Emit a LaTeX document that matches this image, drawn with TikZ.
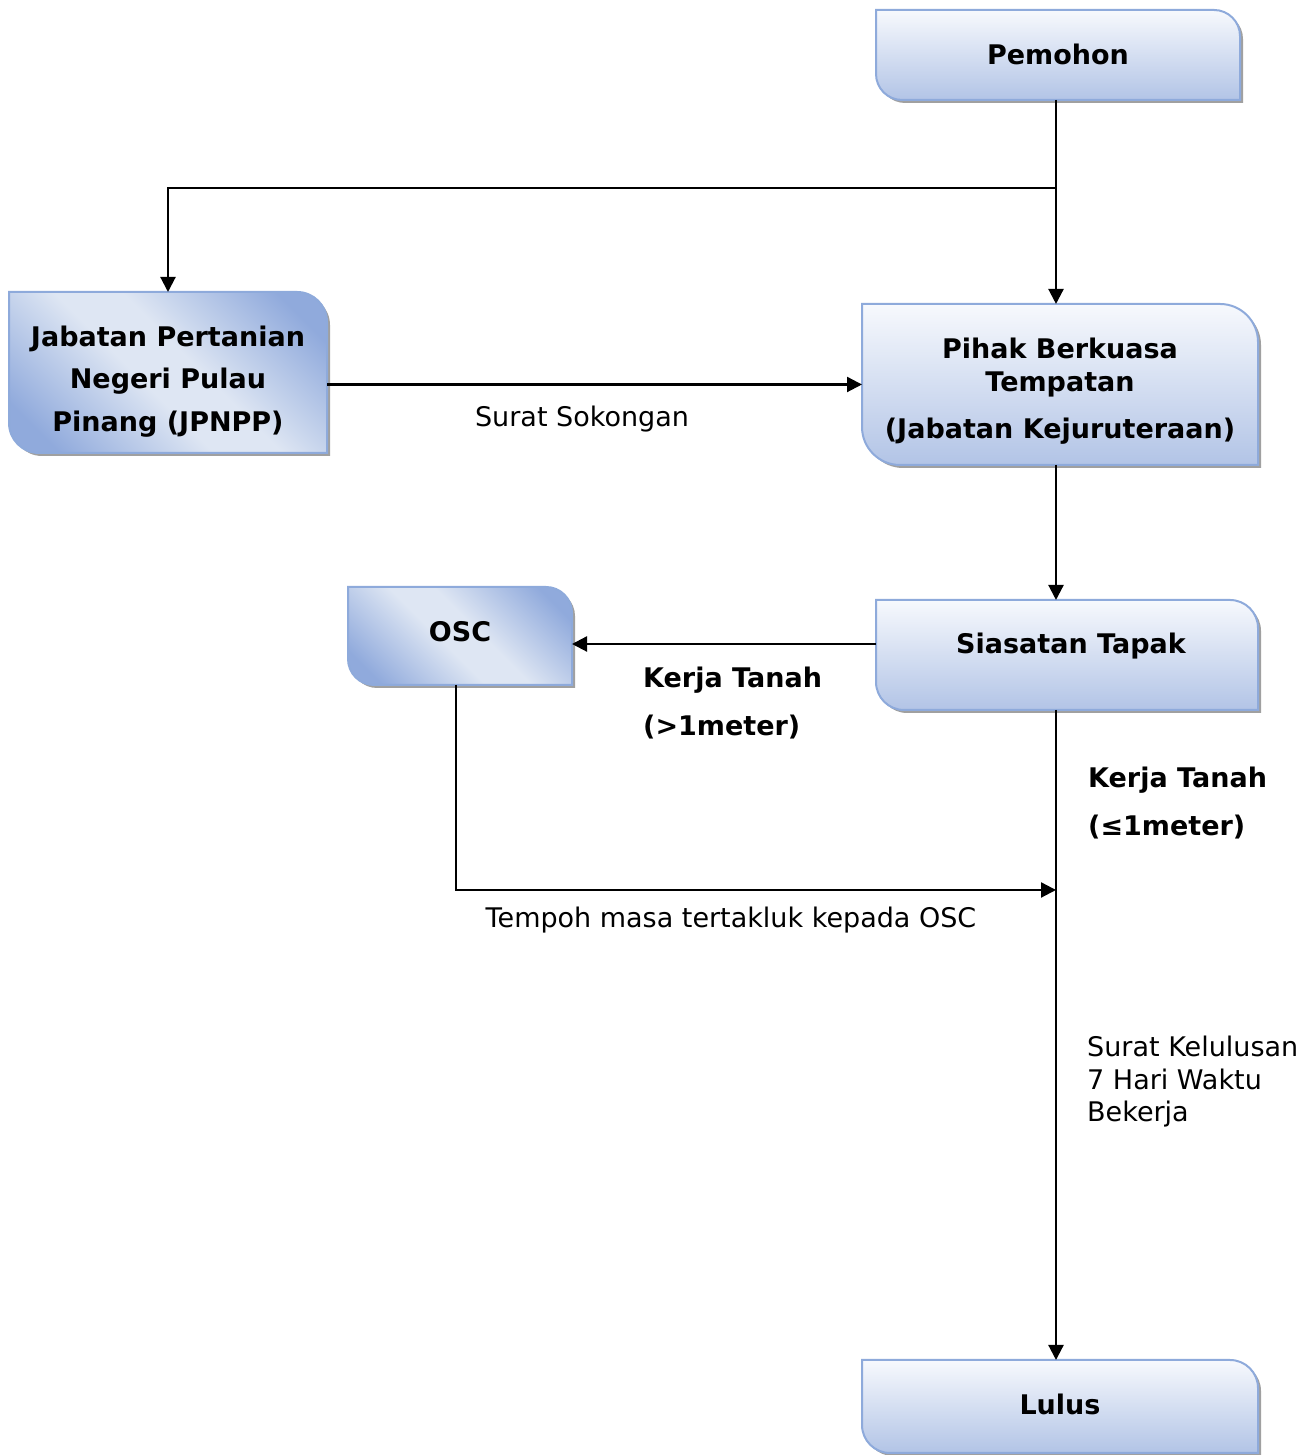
\documentclass[tikz,border=0pt]{standalone}
\usepackage{fontspec}
\setmainfont{DejaVu Sans}
\usetikzlibrary{arrows.meta,calc}
\definecolor{bordc}{RGB}{142,170,219}
\definecolor{topc}{RGB}{247,249,253}
\definecolor{botc}{RGB}{178,196,230}
\definecolor{darkc}{RGB}{144,170,220}
\definecolor{lightc}{RGB}{222,230,243}
\definecolor{shadc}{RGB}{160,160,160}
\pgfdeclarehorizontalshading{diagsh}{100bp}{color(0bp)=(darkc); color(22bp)=(darkc); color(45bp)=(lightc); color(55bp)=(lightc); color(78bp)=(darkc); color(100bp)=(darkc)}
\tikzset{
  box/.style={draw=none, rectangle, inner sep=0pt, outer sep=0pt},
  conn/.style={line width=2.2pt, -{Triangle[length=15pt,width=15pt]}},
  btxt/.style={font=\fontsize{27}{33}\selectfont\bfseries, align=center, inner sep=0pt},
  ntxt/.style={font=\fontsize{27}{32.5}\selectfont, align=left, inner sep=0pt},
  bx/.style n args={4}{insert path={
    ([shift={(#3,#4)}]#1.north west) -- ([shift={(#3-#2,#4)}]#1.north east)
    arc[start angle=90,end angle=0,radius=#2pt] -- ([shift={(#3,#4)}]#1.south east)
    -- ([shift={(#3+#2,#4)}]#1.south west) arc[start angle=270,end angle=180,radius=#2pt] -- cycle}},
  vshade/.style={top color=topc, bottom color=botc},
  dshade/.style={shading=diagsh, shading angle=45},
}
\newcommand\mybox[3]{%
  \fill[shadc, bx={#1}{#2}{3}{-3}];
  \shade[#3, bx={#1}{#2}{0}{0}];
  \draw[bordc, line width=2pt, bx={#1}{#2}{0}{0}];
}
\begin{document}
\begin{tikzpicture}[x=1pt,y=1pt]
\useasboundingbox (0,0) rectangle (1312,1455);
% box geometry
\node[box, minimum width=364pt, minimum height=90pt] (pem) at (1058,1400) {};
\node[box, minimum width=318pt, minimum height=161pt] (jp) at (168,1082.5) {};
\node[box, minimum width=396pt, minimum height=161pt] (pih) at (1060,1070.5) {};
\node[box, minimum width=224pt, minimum height=98pt] (osc) at (460,819) {};
\node[box, minimum width=382pt, minimum height=110pt] (sia) at (1067,800) {};
\node[box, minimum width=396pt, minimum height=93pt] (lul) at (1060,48.5) {};
\mybox{pem}{26}{vshade}
\mybox{jp}{30}{dshade}
\mybox{pih}{38}{vshade}
\mybox{osc}{26}{dshade}
\mybox{sia}{28}{vshade}
\mybox{lul}{28}{vshade}
% box texts
\node[btxt] (tpem) at (1058,1401) {Pemohon};
\node[btxt, font=\fontsize{27}{42.5}\selectfont\bfseries] (tjp) at (168,1073.5) {Jabatan Pertanian\\Negeri Pulau\\Pinang (JPNPP)};
\node[btxt] (tpih) at (1060,1064) {Pihak Berkuasa\\Tempatan\\[14pt](Jabatan Kejuruteraan)};
\node[btxt] (tosc) at (460,823) {OSC};
\node[btxt] (tsia) at (1071,809) {Siasatan Tapak};
\node[btxt] (tlul) at (1060,51) {Lulus};
% connectors
\coordinate (vx) at (1056,0);
\coordinate (br) at (1056,1267);
\draw[conn] (pem.south -| vx) -- (pih.north -| vx);
\draw[conn] (br) -| (jp.north);
\draw[conn] (pih.west -| jp.east) -- (pih.west);
\draw[conn] (pih.south -| vx) -- (sia.north -| vx);
\draw[conn] ([yshift=11pt]sia.west) -- ([yshift=11pt]sia.west -| osc.east);
\draw[conn] (sia.south -| vx) -- (lul.north -| vx);
\coordinate (oscb) at ([xshift=-4pt]osc.south);
\coordinate (join) at (1056,565);
\draw[conn] (oscb) |- (join);
% labels
\node[ntxt, anchor=center] (lsok) at (582,1036) {Surat Sokongan};
\node[btxt, align=left, anchor=west, font=\fontsize{27}{48}\selectfont\bfseries] (lgt) at (643,752) {Kerja Tanah\\(>1meter)};
\node[btxt, align=left, anchor=west, font=\fontsize{27}{48}\selectfont\bfseries] (lle) at (1088,652) {Kerja Tanah\\(≤1meter)};
\node[ntxt, anchor=center] (ltem) at (731,535) {Tempoh masa tertakluk kepada OSC};
\node[ntxt, anchor=west] (lkel) at (1087,373) {Surat Kelulusan\\7 Hari Waktu\\Bekerja};
\end{tikzpicture}
\end{document}
